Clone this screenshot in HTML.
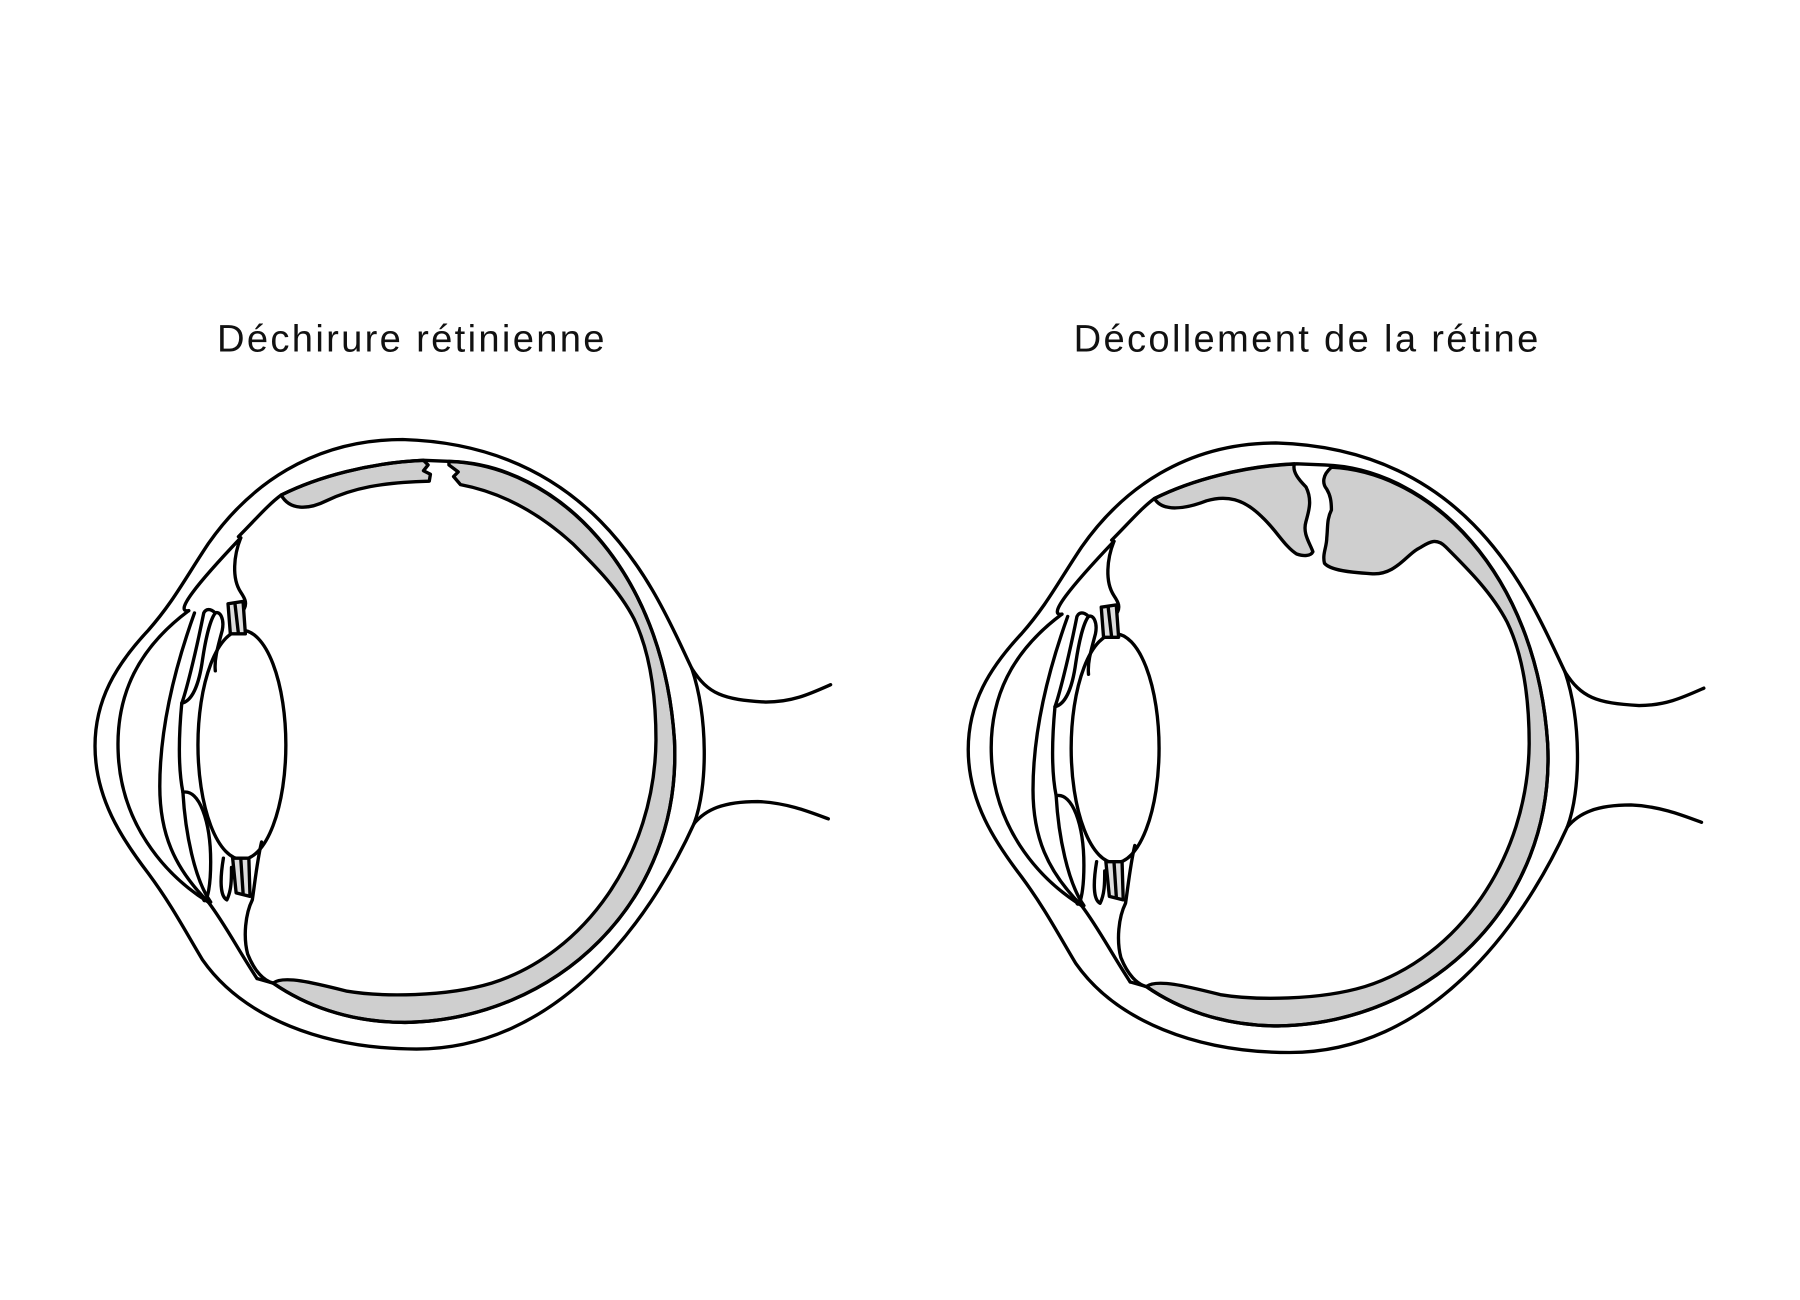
<!DOCTYPE html>
<html><head><meta charset="utf-8"><style>
html,body{margin:0;padding:0;background:#fff;}
svg{display:block;}
</style></head><body>
<svg width="1800" height="1300" viewBox="0 0 1556 1124" xmlns="http://www.w3.org/2000/svg">
<defs>
<g id="eyebase" fill="none" stroke="#000" stroke-width="2.9" stroke-linejoin="round" stroke-linecap="round">
  <path d="M598,578 C570,520 520,385 348,380 C270,380 215,420 180,470 C160,500 150,520 128,545 C100,575 82,605 82,645 C82,690 105,725 128,755 C148,782 160,805 175,830 C210,880 280,907 360,907 C480,907 560,800 600,712"/>
  <path d="M598,578 C612,620 612,680 600,712"/>
  <path d="M598,578 C612,600 625,605 662,607 C685,607 700,600 718,592"/>
  <path d="M600,712 C610,700 625,693 655,693 C680,694 700,702 716,708"/>
  <path d="M206,464 C220,450 232,436 243,428 C275,412 320,400 366,398 L390,399 C480,402 573,490 583,640 C590,780 480,882 350,884 C300,884 262,868 236,850 L222,846"/>
  <path d="M163,528 C120,560 100,600 102,650 C104,710 140,755 180,780"/>
  <path d="M208,465 C170,505 150,530 163,528"/>
  <path d="M180,780 C195,800 205,820 222,846"/>
  <ellipse cx="209" cy="644" rx="38" ry="99" fill="#fff"/>
  <path d="M168,530 C150,580 138,630 138,680 C138,720 150,750 180,780"/>
  <path d="M176,530 C168,570 160,600 157,608 C166,606 172,592 175,570 C178,550 182,535 186,530 C182,526 178,526 176,530 Z"/>
  <path d="M157,608 C154,640 154,665 158,685 C172,682 182,710 182,745 C182,770 178,782 176,778"/>
  <path d="M158,685 C160,720 168,760 182,780"/>
  <path d="M186,530 C190,528 194,535 192,545 C188,560 185,570 186,580"/>
  <path d="M208,465 C202,480 200,500 208,512 C212,518 214,522 210,528"/>
  <path d="M197,522 L210,520 L212,548 L199,548 Z" fill="#ddd"/>
  <path d="M203,522 L206,548"/>
  <path d="M201,742 L215,742 L216,775 L204,772 Z" fill="#ddd"/>
  <path d="M208,742 L210,772"/>
  <path d="M193,742 C190,760 190,775 196,778 C200,770 200,760 200,750"/>
  <path d="M226,728 C222,745 220,765 218,778 C212,790 210,810 214,825 C220,840 228,848 236,850"/>
</g>
</defs>

<g font-family="Liberation Sans, sans-serif" font-size="33" letter-spacing="2" fill="#111" text-anchor="middle">
<text x="356" y="304">Déchirure rétinienne</text>
<text x="1130" y="304">Décollement de la rétine</text>
</g>

<g>
  <g fill="#cfcfcf" stroke="#000" stroke-width="2.9" stroke-linejoin="round">
    <path d="M243,428 C275,412 320,400 366,398 L370,402 L366,407 L372,410 L371,416 C330,417 305,422 282,433 C266,441 250,441 243,428 Z"/>
    <path d="M388,399 C480,402 573,490 583,640 C590,780 480,882 350,884 C300,884 262,868 236,850 C245,843 272,850 300,857 C330,862 385,862 425,850 C505,825 566,740 567,640 C567,595 560,560 548,535 C535,510 515,490 495,470 C462,440 430,425 398,419 L392,412 L396,408 L388,402 Z"/>
  </g>
  <use href="#eyebase"/>
</g>

<g transform="translate(755,3)">
  <g fill="#cfcfcf" stroke="#000" stroke-width="2.9" stroke-linejoin="round">
    <path d="M243,428 C275,412 320,400 364,398 C362,405 368,412 374,418 C380,430 376,440 374,448 C371,458 377,466 380,474 C378,478 372,478 366,476 C356,470 348,455 336,444 C320,428 305,425 288,430 C270,437 250,440 243,428 Z"/>
    <path d="M396,401 C480,405 573,490 583,640 C590,780 480,882 350,884 C300,884 262,868 236,850 C245,843 272,850 300,857 C330,862 385,862 425,850 C505,825 566,740 567,640 C567,595 560,560 548,535 C535,510 515,490 495,470 C485,460 478,468 470,472 C460,478 450,495 430,493 C412,492 395,490 390,484 C388,476 392,470 392,462 C393,452 392,446 396,438 C396,430 395,425 392,420 C388,415 388,408 396,401 Z"/>
  </g>
  <use href="#eyebase"/>
</g>
</svg>
</body></html>
